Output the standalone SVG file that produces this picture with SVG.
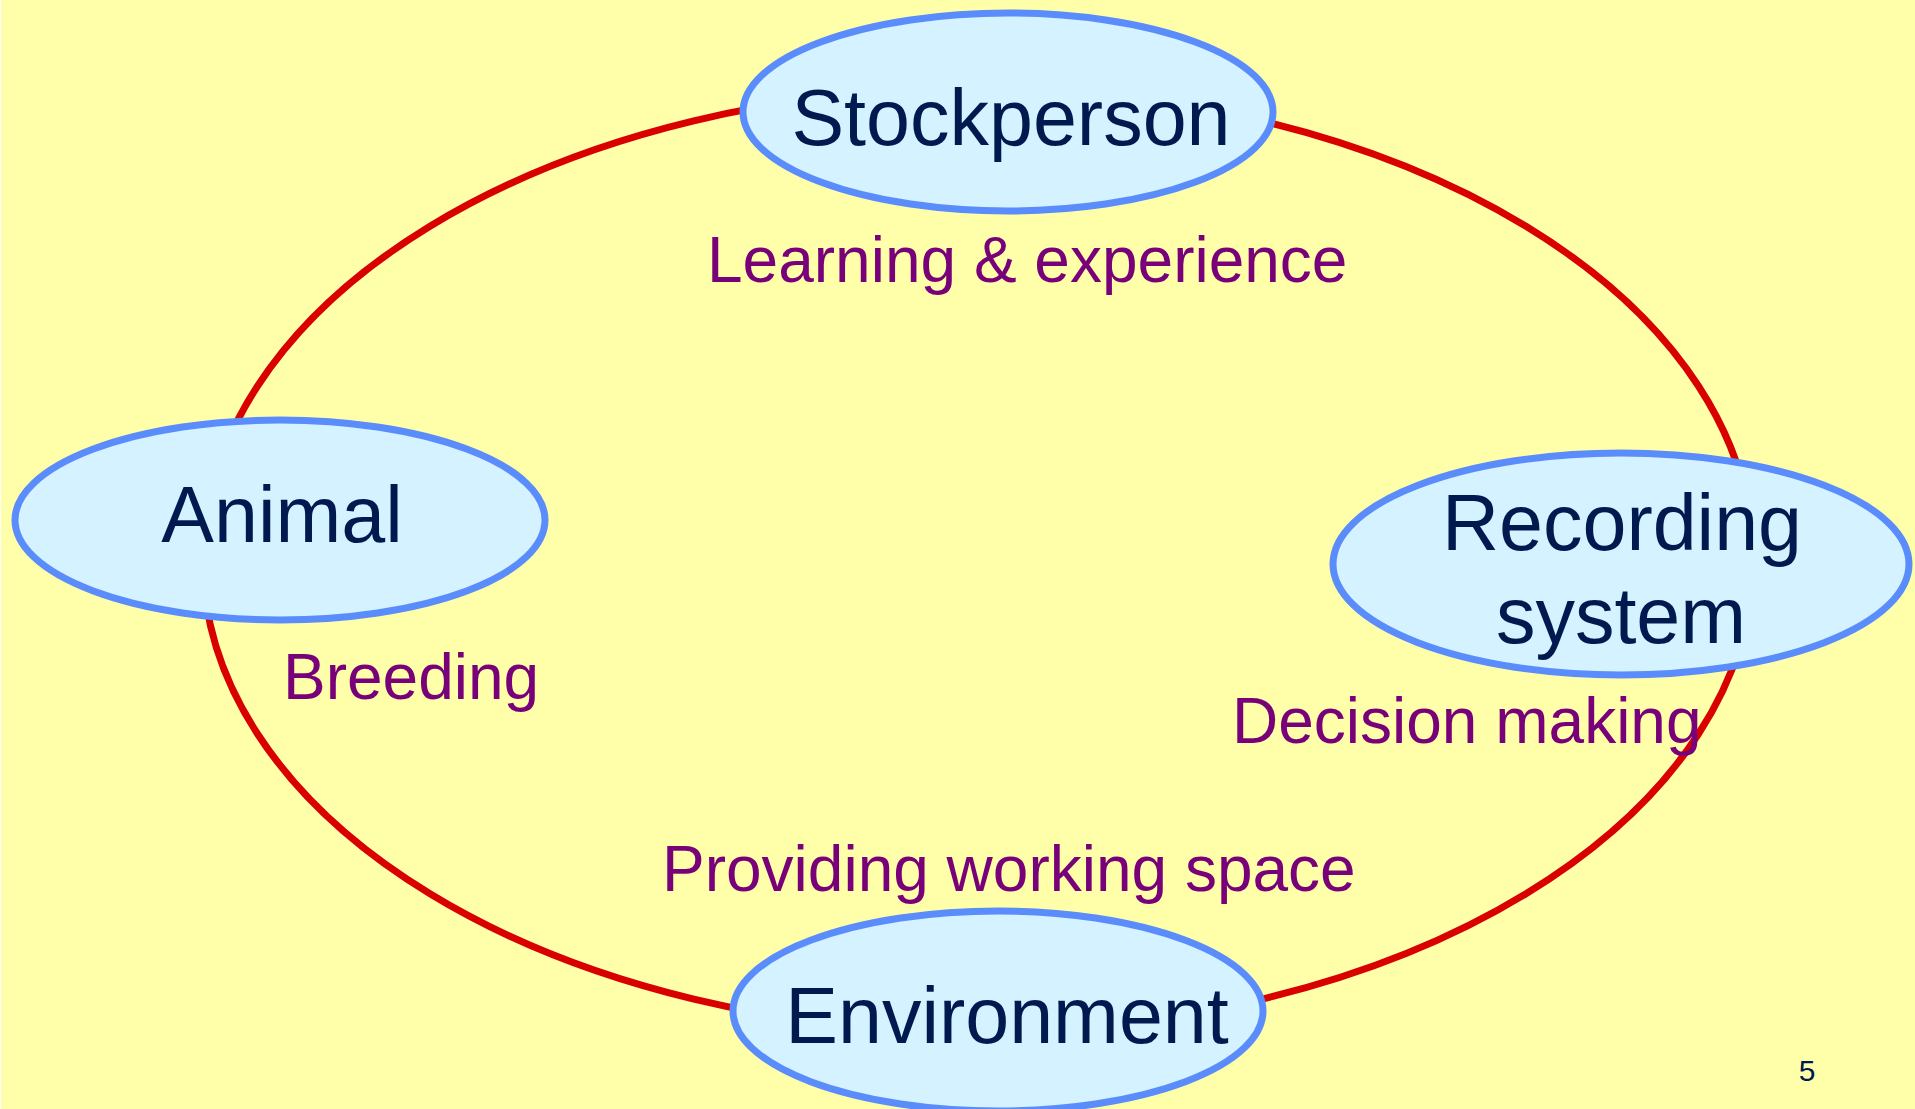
<svg xmlns="http://www.w3.org/2000/svg" width="1915" height="1109" viewBox="0 0 1915 1109">
<style>
.node{fill:#d4f2ff;stroke:#5b8cfb;stroke-width:7}
.ntext{font-family:"Liberation Sans",Arial,sans-serif;font-size:79px;fill:#001a50;text-anchor:middle}
.label{font-family:"Liberation Sans",Arial,sans-serif;font-size:64px;fill:#780078}
.conn{fill:none;stroke:#d90000;stroke-width:7}
</style>
<rect x="0" y="0" width="1915" height="1109" fill="#ffffff"/>
<rect x="1" y="0" width="1914" height="1109" fill="#ffffaa"/>
<g id="connectors">
<path class="conn" d="M978,88 A775,472 0 0 0 203,560"/>
<path class="conn" d="M203,560 A775,472 0 0 0 978,1032"/>
<path class="conn" d="M978,1032 A775,472 0 0 0 1753,560"/>
<path class="conn" d="M1753,560 A775,472 0 0 0 978,88"/>
</g>
<g id="stockperson">
<ellipse class="node" cx="1008" cy="112" rx="265" ry="99"/>
<text class="ntext" x="1011" y="145">Stockperson</text>
</g>
<g id="animal">
<ellipse class="node" cx="280" cy="520" rx="265" ry="100"/>
<text class="ntext" x="282" y="542">Animal</text>
</g>
<g id="recording">
<ellipse class="node" cx="1621" cy="564" rx="288" ry="111"/>
<text class="ntext" x="1622" y="550">Recording</text>
<text class="ntext" x="1621" y="643">system</text>
</g>
<g id="environment">
<ellipse class="node" cx="998" cy="1011" rx="265" ry="100"/>
<text class="ntext" x="1007" y="1043">Environment</text>
</g>
<g id="labels">
<text class="label" x="707" y="282">Learning &amp; experience</text>
<text class="label" x="283" y="699">Breeding</text>
<text class="label" x="1232" y="743">Decision making</text>
<text class="label" x="662" y="891">Providing working space</text>
</g>
<text x="1807" y="1081" font-family="'Liberation Sans',Arial,sans-serif" font-size="30" fill="#001a50" text-anchor="middle">5</text>
</svg>
